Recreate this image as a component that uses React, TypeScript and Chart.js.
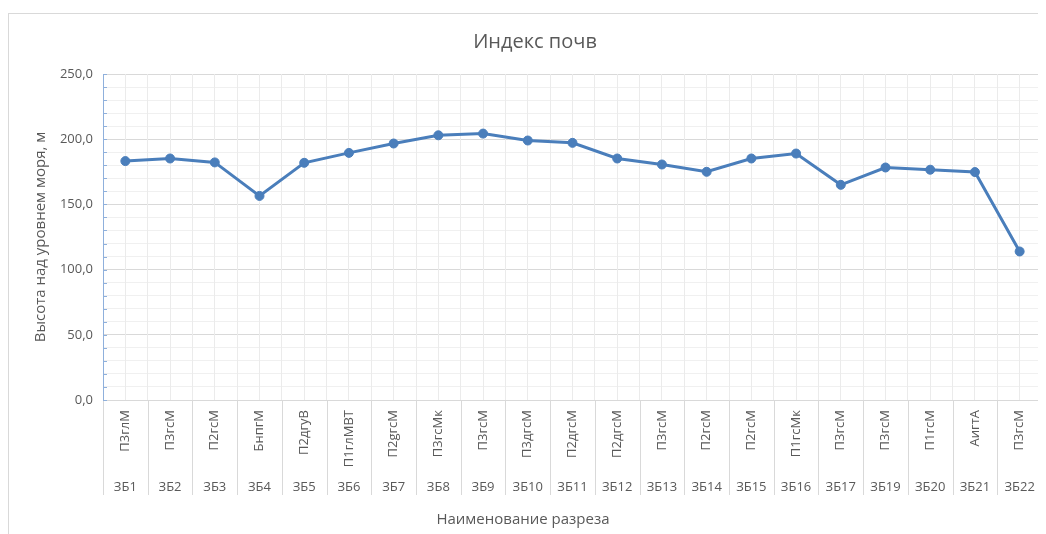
import React, { useEffect, useRef } from "react";
import { Chart, registerables } from "chart.js";

Chart.register(...registerables);

const categories = ["ЗБ1", "ЗБ2", "ЗБ3", "ЗБ4", "ЗБ5", "ЗБ6", "ЗБ7", "ЗБ8", "ЗБ9", "ЗБ10", "ЗБ11", "ЗБ12", "ЗБ13", "ЗБ14", "ЗБ15", "ЗБ16", "ЗБ17", "ЗБ19", "ЗБ20", "ЗБ21", "ЗБ22"];
const soilIndex = ["П3глМ", "П3гсМ", "П2гсМ", "БнпгМ", "П2дгуВ", "П1глМВТ", "П2gгсМ", "П3гсМк", "П3гсМ", "П3дгсМ", "П2дгсМ", "П2дгсМ", "П3гсМ", "П2гсМ", "П2гсМ", "П1гсМк", "П3гсМ", "П3гсМ", "П1гсМ", "АигтА", "П3гсМ"];
const elevation = [183.2, 185.2, 182.2, 156.5, 181.9, 189.5, 196.7, 203.0, 204.3, 199.0, 197.2, 185.2, 180.6, 175.0, 185.2, 189.0, 165.0, 178.3, 176.6, 174.8, 113.9];
const yMin = 0;
const yMax = 250;
const yMinorStep = 10;
const yMajorStep = 50;

const FONT = "'Open Sans', 'DejaVu Sans', sans-serif";
const TEXT = "#595959";
const LINE = "#4a7ebb";
const AXIS_BLUE = "#8fb0dc";

const decor = {
  id: "decor",
  afterDraw(chart: any) {
    const { ctx, chartArea, scales } = chart;
    const x = scales.x;
    const x2 = scales.x2;
    const y = scales.y;
    ctx.save();
    // category separators in the label area
    const half = (x.getPixelForValue(1) - x.getPixelForValue(0)) / 2;
    ctx.strokeStyle = "#d9d9d9";
    ctx.lineWidth = 1;
    for (let i = 0; i <= categories.length; i++) {
      const px = Math.round(x.getPixelForValue(i) - half) + 0.5;
      ctx.beginPath();
      ctx.moveTo(px, chartArea.bottom);
      ctx.lineTo(px, x2.bottom);
      ctx.stroke();
    }
    // minor tick marks on the value axis (inside)
    ctx.strokeStyle = AXIS_BLUE;
    for (let v = yMin; v <= yMax; v += yMinorStep) {
      const py = Math.round(y.getPixelForValue(v)) + 0.5;
      ctx.beginPath();
      ctx.moveTo(chartArea.left, py);
      ctx.lineTo(chartArea.left + 4, py);
      ctx.stroke();
    }
    // category axis title
    ctx.fillStyle = TEXT;
    ctx.font = `15px ${FONT}`;
    ctx.textAlign = "center";
    ctx.textBaseline = "middle";
    ctx.fillText("Наименование разреза", chart.width / 2 - 12, x2.bottom + 25);
    ctx.restore();
  },
};

export default function App() {
  const ref = useRef<HTMLCanvasElement | null>(null);
  useEffect(() => {
    document.body.style.overflow = "hidden";
    const chart = new Chart(ref.current as HTMLCanvasElement, {
      type: "line",
      data: {
        labels: categories,
        datasets: [
          {
            data: elevation,
            borderColor: LINE,
            backgroundColor: LINE,
            borderWidth: 3,
            pointRadius: 4.5,
            pointBackgroundColor: LINE,
            pointBorderColor: LINE,
            pointBorderWidth: 1,
            tension: 0,
            xAxisID: "x",
            yAxisID: "y",
          },
        ],
      },
      options: {
        animation: false,
        responsive: false,
        layout: { padding: { left: 19, right: 19, top: 0, bottom: 59 } },
        plugins: {
          legend: { display: false },
          tooltip: { enabled: false },
          title: {
            display: true,
            text: "Индекс почв",
            color: TEXT,
            font: { family: FONT, size: 20, weight: "normal" },
            padding: { top: 16, bottom: 20 },
          },
        },
        scales: {
          y: {
            type: "linear",
            min: yMin,
            max: yMax,
            afterFit: (s: any) => {
              s.width = 75;
            },
            ticks: {
              stepSize: yMinorStep,
              autoSkip: false,
              maxTicksLimit: 100,
              padding: 10,
              color: TEXT,
              font: { family: FONT, size: 13 },
              callback: (v: any) => (Number(v) % yMajorStep === 0 ? Number(v).toFixed(1).replace(".", ",") : ""),
            },
            grid: {
              drawTicks: false,
              color: (c: any) => (c.tick && c.tick.value % yMajorStep === 0 ? "#d9d9d9" : "#f0f0f0"),
            },
            border: { display: true, color: AXIS_BLUE, width: 1 },
            title: {
              display: true,
              text: "Высота над уровнем моря, м",
              color: TEXT,
              font: { family: FONT, size: 15 },
              padding: { top: 4, bottom: 8 },
            },
          },
          x: {
            type: "category",
            labels: soilIndex,
            offset: true,
            weight: 0,
            afterFit: (s: any) => {
              s.height = 77;
            },
            grid: { offset: true, drawTicks: false, color: "#ebebeb" },
            border: { display: true, color: "#d9d9d9" },
            ticks: {
              autoSkip: false,
              minRotation: 90,
              maxRotation: 90,
              padding: 10,
              color: TEXT,
              font: { family: FONT, size: 13 },
            },
          },
          x2: {
            type: "category",
            labels: categories,
            position: "bottom",
            offset: true,
            weight: 1,
            afterFit: (s: any) => {
              s.height = 18;
            },
            grid: { offset: false, drawTicks: false, color: "#ebebeb" },
            border: { display: false },
            ticks: {
              autoSkip: false,
              maxRotation: 0,
              minRotation: 0,
              padding: 2,
              color: TEXT,
              font: { family: FONT, size: 13 },
            },
          },
        },
      } as any,
      plugins: [decor],
    });
    return () => chart.destroy();
  }, []);

  return (
    <div style={{ marginTop: 5, border: "1px solid #d9d9d9", width: 1052, height: 540, boxSizing: "content-box" }}>
      <canvas ref={ref} width={1052} height={540} style={{ display: "block", width: 1052, height: 540 }} />
    </div>
  );
}
